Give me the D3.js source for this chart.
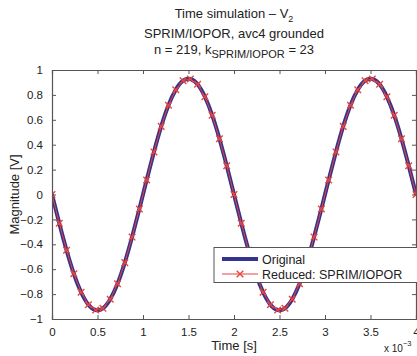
<!DOCTYPE html>
<html>
<head>
<meta charset="utf-8">
<script src="https://cdn.jsdelivr.net/npm/d3@7"></script>
<style>
  body { margin: 0; background: #fff; }
  text { font-family: "Liberation Sans", Arial, sans-serif; fill: #222; }
</style>
</head>
<body>
<div id="chart"></div>
<script>
// time in ms (axis shown as x 10^-3 s)
const timeMs = [0, 0.08, 0.16, 0.24, 0.32, 0.40, 0.48, 0.56, 0.64, 0.72, 0.80, 0.88, 0.96,
  1.04, 1.12, 1.20, 1.28, 1.36, 1.44, 1.52, 1.60, 1.68, 1.76, 1.84, 1.92, 2.00,
  2.08, 2.16, 2.24, 2.32, 2.40, 2.48, 2.56, 2.64, 2.72, 2.80, 2.88, 2.96,
  3.04, 3.12, 3.20, 3.28, 3.36, 3.44, 3.52, 3.60, 3.68, 3.76, 3.84, 3.92, 4.00];
const original = [0, -0.231, -0.448, -0.637, -0.785, -0.885, -0.928, -0.914, -0.841, -0.717, -0.547, -0.342, -0.117,
  0.117, 0.342, 0.547, 0.717, 0.841, 0.914, 0.928, 0.885, 0.785, 0.637, 0.448, 0.231, 0,
  -0.231, -0.448, -0.637, -0.785, -0.885, -0.928, -0.914, -0.841, -0.717, -0.547, -0.342, -0.117,
  0.117, 0.342, 0.547, 0.717, 0.841, 0.914, 0.928, 0.885, 0.785, 0.637, 0.448, 0.231, 0];
const reduced = [0, -0.231, -0.448, -0.637, -0.785, -0.885, -0.928, -0.914, -0.841, -0.717, -0.547, -0.342, -0.117,
  0.117, 0.342, 0.547, 0.717, 0.841, 0.914, 0.928, 0.885, 0.785, 0.637, 0.448, 0.231, 0,
  -0.231, -0.448, -0.637, -0.785, -0.885, -0.928, -0.914, -0.841, -0.717, -0.547, -0.342, -0.117,
  0.117, 0.342, 0.547, 0.717, 0.841, 0.914, 0.928, 0.885, 0.785, 0.637, 0.448, 0.231, 0];
const xTicks = [0, 0.5, 1, 1.5, 2, 2.5, 3, 3.5, 4];
const yTicks = [-1, -0.8, -0.6, -0.4, -0.2, 0, 0.2, 0.4, 0.6, 0.8, 1];
const seriesNames = ["Original", "Reduced: SPRIM/IOPOR"];

const width = 417, height = 356;
const margin = {top: 70, right: 1, bottom: 37, left: 52};
const pw = width - margin.left - margin.right;
const ph = height - margin.top - margin.bottom;

const svg = d3.select("#chart").append("svg")
    .attr("width", width)
    .attr("height", height);

const x = d3.scaleLinear().domain([0, 4]).range([margin.left, margin.left + pw]);
const y = d3.scaleLinear().domain([-1, 1]).range([margin.top + ph, margin.top]);

const fmt = v => String(v).replace("-", "\u2212");
const axisColor = "#555";
const blue = "#34338f", red = "#e8453c";

svg.append("rect")
    .attr("x", margin.left).attr("y", margin.top)
    .attr("width", pw).attr("height", ph)
    .attr("fill", "#fff");

svg.append("clipPath").attr("id", "clip")
  .append("rect")
    .attr("x", margin.left).attr("y", margin.top - 5)
    .attr("width", pw).attr("height", ph + 10);

const g = svg.append("g").attr("clip-path", "url(#clip)");

const data = timeMs.map((t, i) => ({t: t, o: original[i], r: reduced[i]}));

g.append("path")
    .datum(data)
    .attr("fill", "none")
    .attr("stroke", blue)
    .attr("stroke-width", 4)
    .attr("d", d3.line().x(d => x(d.t)).y(d => y(d.o)).curve(d3.curveNatural));

g.append("path")
    .datum(data)
    .attr("fill", "none")
    .attr("stroke", red)
    .attr("stroke-width", 1)
    .attr("d", d3.line().x(d => x(d.t)).y(d => y(d.r)));

const mk = 3.3;
g.selectAll(".mark")
    .data(data)
    .enter()
    .append("path")
    .attr("class", "mark")
    .attr("d", d => `M${x(d.t) - mk},${y(d.r) - mk}L${x(d.t) + mk},${y(d.r) + mk}M${x(d.t) - mk},${y(d.r) + mk}L${x(d.t) + mk},${y(d.r) - mk}`)
    .attr("stroke", red)
    .attr("stroke-width", 1.4);

// axes (ticks inside, box)
const axB = svg.append("g").attr("transform", `translate(0,${margin.top + ph})`)
    .call(d3.axisBottom(x).tickValues(xTicks).tickSize(-4).tickPadding(9).tickFormat(fmt));
const axT = svg.append("g").attr("transform", `translate(0,${margin.top})`)
    .call(d3.axisTop(x).tickValues(xTicks).tickSize(-4).tickFormat(""));
const axL = svg.append("g").attr("transform", `translate(${margin.left},0)`)
    .call(d3.axisLeft(y).tickValues(yTicks).tickSize(-4).tickPadding(9).tickFormat(fmt));
const axR = svg.append("g").attr("transform", `translate(${margin.left + pw},0)`)
    .call(d3.axisRight(y).tickValues(yTicks).tickSize(-4).tickFormat(""));

[axB, axT, axL, axR].forEach(a => {
  a.select(".domain").attr("stroke", axisColor).attr("stroke-width", 1.2);
  a.selectAll(".tick line").attr("stroke", axisColor);
  a.selectAll("text").attr("font-size", 11.5).attr("fill", "#333")
    .attr("font-family", "Liberation Sans, Arial, sans-serif");
});

// titles
const cx = margin.left + pw / 2;
const t1 = svg.append("text").attr("x", cx).attr("y", 18).attr("text-anchor", "middle").attr("font-size", 13);
t1.append("tspan").text("Time simulation \u2013 V");
t1.append("tspan").attr("font-size", 9).attr("dy", 4).text("2");

svg.append("text").attr("x", cx).attr("y", 38).attr("text-anchor", "middle").attr("font-size", 13)
    .text("SPRIM/IOPOR, avc4 grounded");

const t3 = svg.append("text").attr("x", cx).attr("y", 54).attr("text-anchor", "middle").attr("font-size", 13);
t3.append("tspan").text("n = 219, k");
t3.append("tspan").attr("font-size", 11).attr("dy", 4).text("SPRIM/IOPOR");
t3.append("tspan").attr("dy", -4).text(" = 23");

svg.append("text").attr("x", cx).attr("y", 350).attr("text-anchor", "middle").attr("font-size", 13)
    .text("Time [s]");

const ex = svg.append("text").attr("x", 384).attr("y", 352).attr("font-size", 10);
ex.append("tspan").text("x 10");
ex.append("tspan").attr("font-size", 7.5).attr("dy", -6).text("\u22123");

svg.append("text")
    .attr("transform", `translate(19,${margin.top + ph / 2}) rotate(-90)`)
    .attr("text-anchor", "middle").attr("font-size", 13)
    .text("Magnitude [V]");

// legend
const lg = svg.append("g");
lg.append("rect")
    .attr("x", 214).attr("y", 247.5).attr("width", 220).attr("height", 35)
    .attr("fill", "#fff").attr("stroke", axisColor).attr("stroke-width", 1);
lg.append("line").attr("x1", 222).attr("x2", 258).attr("y1", 259).attr("y2", 259)
    .attr("stroke", blue).attr("stroke-width", 4);
lg.append("line").attr("x1", 222).attr("x2", 258).attr("y1", 274).attr("y2", 274)
    .attr("stroke", red).attr("stroke-width", 1);
lg.append("path")
    .attr("d", `M${240 - mk},${274 - mk}L${240 + mk},${274 + mk}M${240 - mk},${274 + mk}L${240 + mk},${274 - mk}`)
    .attr("stroke", red).attr("stroke-width", 1.4);
lg.selectAll(".lt")
    .data(seriesNames)
    .enter()
    .append("text")
    .attr("x", 262)
    .attr("y", (d, i) => 263.5 + i * 15)
    .attr("font-size", 12.5)
    .text(d => d);
</script>
</body>
</html>
